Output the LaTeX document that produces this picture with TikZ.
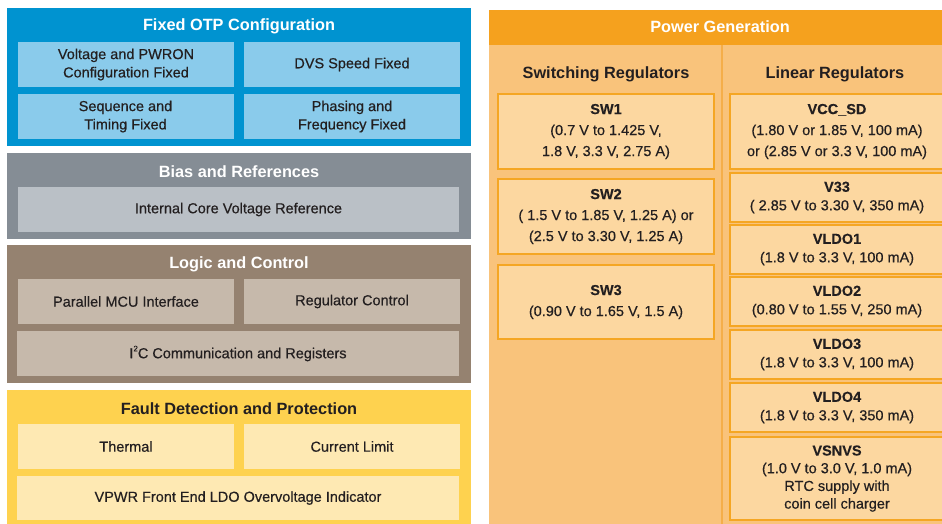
\documentclass[tikz,border=0pt]{standalone}
\usepackage{fontspec}
\setmainfont{Liberation Sans}
\newfontfamily\medfont{Liberation Sans}[FakeBold=0.45, BoldFeatures={FakeBold=0.15}]
\definecolor{txt}{HTML}{231F20}
\definecolor{bluepan}{HTML}{0093D0}
\definecolor{bluecell}{HTML}{8ACBEB}
\definecolor{greypan}{HTML}{858D95}
\definecolor{greycell}{HTML}{BAC0C6}
\definecolor{brownpan}{HTML}{958270}
\definecolor{browncell}{HTML}{C6B9AB}
\definecolor{yelpan}{HTML}{FED24F}
\definecolor{yelcell}{HTML}{FEE9B3}
\definecolor{orhead}{HTML}{F5A11E}
\definecolor{orbody}{HTML}{F9C37B}
\definecolor{orcell}{HTML}{FCD7A0}
\definecolor{orline}{HTML}{F5A623}
\definecolor{ordiv}{HTML}{F5AE4A}
\begin{document}
\begin{tikzpicture}[x=1pt,y=-1pt,
  panel/.style={rectangle, inner sep=0pt, outer sep=0pt, draw=none},
  cell/.style={rectangle, inner sep=0pt, outer sep=0pt, draw=none, text=txt, align=center,
    font=\medfont\fontsize{14.5}{18.3}\selectfont},
  pcell/.style={rectangle, inner sep=0pt, outer sep=0pt, fill=orcell, draw=orline, line width=1.2pt,
    text=txt, align=center, font=\medfont\fontsize{14.5}{18.5}\selectfont},
  tallcell/.style={pcell, font=\medfont\fontsize{14.5}{21}\selectfont},
  ptitle/.style={inner sep=0pt, anchor=base, font=\bfseries\fontsize{16.3}{19}\selectfont, text=white},
  ctitle/.style={inner sep=0pt, anchor=base, font=\bfseries\fontsize{16.3}{19}\selectfont, text=txt}]
\useasboundingbox (0,0) rectangle (942,523);
\clip (0,0) rectangle (942,523);

% Fixed OTP Configuration
\node[panel, fill=bluepan, minimum width=464pt, minimum height=138pt] (otp) at (239,77) {};
\node[ptitle] (otpt) at (239,30.8) {Fixed OTP Configuration};
\node[cell, fill=bluecell, minimum width=216pt, minimum height=45pt] (otp1) at (126,64.5) {Voltage and PWRON\\Configuration Fixed};
\node[cell, fill=bluecell, minimum width=216pt, minimum height=45pt] (otp2) at (352,64.5) {DVS Speed Fixed};
\node[cell, fill=bluecell, minimum width=216pt, minimum height=45pt] (otp3) at (125.5,116.5) {Sequence and\\Timing Fixed};
\node[cell, fill=bluecell, minimum width=216pt, minimum height=45pt] (otp4) at (352,116.5) {Phasing and\\Frequency Fixed};

% Bias and References
\node[panel, fill=greypan, minimum width=464pt, minimum height=86pt] (bias) at (239,196) {};
\node[ptitle] (biast) at (239,177.8) {Bias and References};
\node[cell, fill=greycell, minimum width=441pt, minimum height=45pt] (bias1) at (238.5,209.5) {Internal Core Voltage Reference};

% Logic and Control
\node[panel, fill=brownpan, minimum width=464pt, minimum height=138pt] (logic) at (239,314) {};
\node[ptitle] (logict) at (239,268.8) {Logic and Control};
\node[cell, fill=browncell, minimum width=216pt, minimum height=45pt] (log1) at (126,301.5) {Parallel MCU Interface};
\node[cell, fill=browncell, minimum width=216pt, minimum height=45pt] (log2) at (352,301.5) {Regulator Control};
\node[cell, fill=browncell, minimum width=442pt, minimum height=45pt] (log3) at (238,353.5) {I\raisebox{0.9ex}{\fontsize{8}{8}\selectfont 2}C Communication and Registers};

% Fault Detection and Protection
\node[panel, fill=yelpan, minimum width=464pt, minimum height=137pt] (fault) at (239,458.5) {};
\node[ctitle] (faultt) at (239,414.8) {Fault Detection and Protection};
\node[cell, fill=yelcell, minimum width=216pt, minimum height=45pt] (f1) at (126,446.5) {Thermal};
\node[cell, fill=yelcell, minimum width=216pt, minimum height=45pt] (f2) at (352,446.5) {Current Limit};
\node[cell, fill=yelcell, minimum width=442pt, minimum height=44pt] (f3) at (238,498) {VPWR Front End LDO Overvoltage Indicator};

% Power Generation
\node[panel, fill=orbody, minimum width=459pt, minimum height=515pt] (pow) at (718.5,267.5) {};
\node[panel, fill=orhead, minimum width=459pt, minimum height=35pt] (powh) at (718.5,27.5) {};
\node[ptitle] (powt) at (720,32.8) {Power Generation};
\coordinate (divtop) at (722,45);
\coordinate (divbot) at (722,525);
\draw[ordiv, line width=2pt] (divtop) -- (divbot);
\node[ctitle] (swt) at (606,78.8) {Switching Regulators};
\node[ctitle] (lint) at (835,78.8) {Linear Regulators};

\node[tallcell, minimum width=216pt, minimum height=75pt] (sw1) at (606,131.5) {\textbf{SW1}\\(0.7 V to 1.425 V,\\1.8 V, 3.3 V, 2.75 A)};
\node[tallcell, minimum width=216pt, minimum height=75pt] (sw2) at (606,216.5) {\textbf{SW2}\\( 1.5 V to 1.85 V, 1.25 A) or\\(2.5 V to 3.30 V, 1.25 A)};
\node[tallcell, minimum width=216pt, minimum height=74pt] (sw3) at (606,302) {\textbf{SW3}\\(0.90 V to 1.65 V, 1.5 A)};

\node[tallcell, minimum width=214pt, minimum height=75pt] (vccsd) at (837,131.5) {\textbf{VCC\_SD}\\(1.80 V or 1.85 V, 100 mA)\\or (2.85 V or 3.3 V, 100 mA)};
\node[pcell, minimum width=214pt, minimum height=49pt] (v33) at (837,197.5) {\textbf{V33}\\( 2.85 V to 3.30 V, 350 mA)};
\node[pcell, minimum width=214pt, minimum height=49pt] (vldo1) at (837,249.5) {\textbf{VLDO1}\\(1.8 V to 3.3 V, 100 mA)};
\node[pcell, minimum width=214pt, minimum height=49pt] (vldo2) at (837,301.5) {\textbf{VLDO2}\\(0.80 V to 1.55 V, 250 mA)};
\node[pcell, minimum width=214pt, minimum height=49pt] (vldo3) at (837,354.5) {\textbf{VLDO3}\\(1.8 V to 3.3 V, 100 mA)};
\node[pcell, minimum width=214pt, minimum height=49pt] (vldo4) at (837,407.5) {\textbf{VLDO4}\\(1.8 V to 3.3 V, 350 mA)};
\node[pcell, minimum width=214pt, minimum height=83pt, font=\medfont\fontsize{14.5}{17.7}\selectfont] (vsnvs) at (837,478.5) {\textbf{VSNVS}\\(1.0 V to 3.0 V, 1.0 mA)\\RTC supply with\\coin cell charger};
\end{tikzpicture}
\end{document}
